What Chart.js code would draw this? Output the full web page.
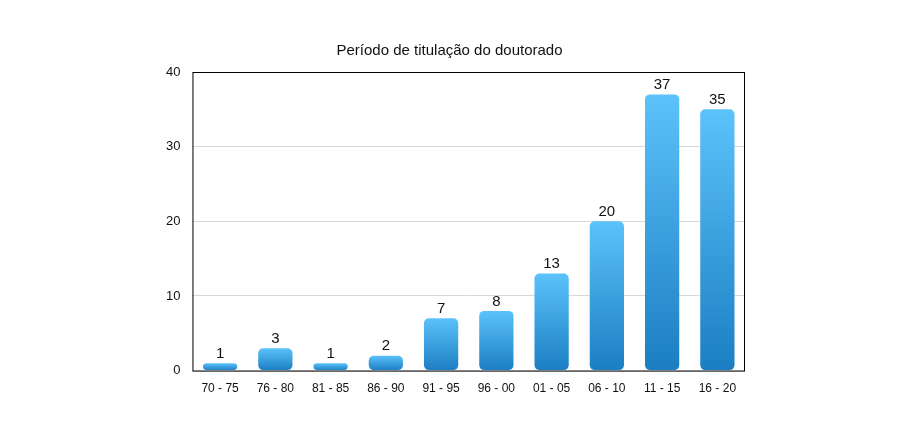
<!DOCTYPE html>
<html><head><meta charset="utf-8">
<script src="https://cdn.jsdelivr.net/npm/chart.js@4"></script>
<style>html,body{margin:0;background:#fff}#w{width:900px;height:429px}</style>
</head><body><div id="w"><canvas id="c"></canvas></div>
<script>
const categories=["70 - 75","76 - 80","81 - 85","86 - 90","91 - 95","96 - 00","01 - 05","06 - 10","11 - 15","16 - 20"];
const values=[1,3,1,2,7,8,13,20,37,35];
const yTicks=[0,10,20,30,40];
const labelPlugin={id:'lbl',afterDatasetsDraw(ch){const c=ch.ctx;const m=ch.getDatasetMeta(0);c.save();c.font='15px "Liberation Sans", Arial';c.fillStyle='#111';c.textAlign='center';c.textBaseline='bottom';m.data.forEach((b,i)=>c.fillText(values[i],b.x,b.y-2));c.restore();}};
const borderPlugin={id:'bd',afterDraw(ch){const a=ch.chartArea,c=ch.ctx;c.save();c.strokeStyle='#000';c.lineWidth=1;c.strokeRect(a.left+0.5,a.top+0.5,a.right-a.left-1,a.bottom-a.top);c.restore();}};
new Chart(document.getElementById('c'),{type:'bar',
data:{labels:categories,datasets:[{data:values,barPercentage:0.62,categoryPercentage:1,borderRadius:5,borderSkipped:false,
backgroundColor(ctx){const ch=ctx.chart;const a=ch.chartArea;if(!a)return '#3aa0e0';const y=ch.scales.y;const top=y.getPixelForValue(values[ctx.dataIndex]);const bot=y.getPixelForValue(0);const g=ch.ctx.createLinearGradient(0,top,0,Math.max(bot,top+1));g.addColorStop(0,'#5cc2fa');g.addColorStop(1,'#1b7ec3');return g;}}]},
options:{responsive:true,maintainAspectRatio:false,animation:false,
layout:{padding:{left:154,right:155,top:10,bottom:30}},
plugins:{legend:{display:false},tooltip:{enabled:false},title:{display:true,text:'Período de titulação do doutorado',color:'#111',font:{family:'"Liberation Sans", Arial',size:15,weight:'normal'},padding:{top:32,bottom:12}}},
scales:{x:{grid:{display:false},border:{display:false},ticks:{color:'#111',font:{family:'"Liberation Sans", Arial',size:12},maxRotation:0}},
y:{min:0,max:40,afterBuildTicks(s){s.ticks=yTicks.map(v=>({value:v}));},grid:{color:'#d8d8d8',drawTicks:false},border:{display:false},ticks:{color:'#111',padding:12,font:{family:'"Liberation Sans", Arial',size:13}}}}},
plugins:[labelPlugin,borderPlugin]});
</script></body></html>
